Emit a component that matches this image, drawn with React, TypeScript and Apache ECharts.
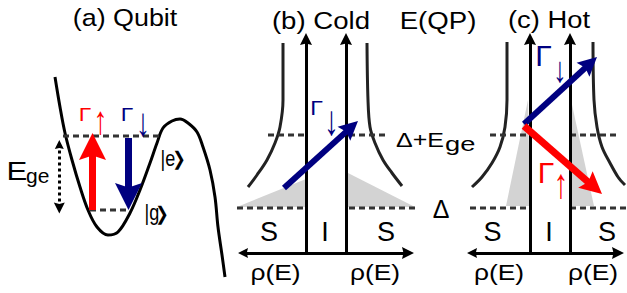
import React, { useEffect, useRef } from "react";
import * as echarts from "echarts";

// ---------------- data (drawing units: 627 x 293 canvas, y grows downward) ----------------
// (a) double-well potential of the qubit
const potentialX = [55, 60, 65, 72, 80, 88, 97, 108, 118, 130, 140, 150, 157, 163, 172, 180, 188, 197, 203, 210, 215, 218, 222, 225];
const potentialY = [77, 107, 133, 160, 187, 210, 227, 235, 232, 213, 190, 163, 143, 128, 121, 119, 123, 132, 147, 170, 197, 227, 255, 277];

// (b)/(c) BCS density-of-states curves (x, y)
const bcsColdLeft = [[283, 43], [283, 100], [280, 127], [275, 143], [267, 160], [257, 175], [248, 187]];
const bcsColdRight = [[367, 43], [368, 100], [370, 127], [375, 143], [383, 160], [392, 173], [402, 186]];
const bcsHotLeft = [[507, 42], [507, 100], [505, 127], [500, 147], [492, 163], [482, 177], [472, 187]];
const bcsHotRight = [[593, 42], [594, 100], [597, 127], [602, 147], [610, 163], [618, 177], [625, 185]];

// quasiparticle occupation (grey wedges)
const occupationCold = [
  [[237, 207], [306, 179], [306, 207]],
  [[346, 172], [415, 207], [346, 207]],
];
const occupationHot = [
  [[506, 206], [528, 100], [530, 206]],
  [[570, 206], [571, 100], [594, 206]],
];

// energy levels: [xStart, xEnd, level]
const qubitLevels = [[63, 160, 136], [90, 130, 210]];
const gapLevels = [[237, 306, 208], [349, 415, 208], [470, 530, 208], [570, 627, 208]];
const excitedLevels = [[268, 306, 135], [349, 389, 135], [490, 530, 135], [570, 617, 135]];

// density-of-states axes
const energyAxes = [[306, 253, 33], [346, 253, 33], [530, 253, 33], [570, 253, 33]]; // x, from, to
const dosAxes = [[237, 414, 253], [466, 624, 253]]; // from, to, y

// transitions: [tail, tip]
const qubitExcite = [[92.5, 210], [92.5, 133]];
const qubitRelax = [[128.5, 138], [128.5, 210]];
const coldRelax = [[284, 188], [358, 121]];
const hotRelax = [[524, 124], [597, 57]];
const hotExcite = [[524, 126], [602, 194]];
const levelSpacing = [[59.3, 139], [59.3, 213.5]];

// texts
const panelTitles = ["(a) Qubit", "(b) Cold", "(c) Hot"];
const energyLabel = "E(QP)";
const rateSymbol = "Γ";
const upArrow = "↑";
const downArrow = "↓";
const stateLabels = ["|e", "|g"];
const ketBracket = "\u276F";
const regionLabels = ["S", "I", "S"];
const dosLabel = "ρ(E)";
const gapLabel = "Δ";
const excitedLabel = "Δ+E";
const egeE = "E";
const egeSub = "ge";

const RED = "#ff0000";
const NAVY = "#000080";
const FONT = '"Liberation Sans", Arial, "DejaVu Sans", sans-serif';

type Pt = number[];
const headPath = "path://M10,0 L20,24 L10,20 L0,24 Z";
const axisHead = "path://M10,0 L20,24 L10,21 L0,24 Z";

function shorten(a: Pt, b: Pt, d: number): Pt {
  const dx = b[0] - a[0];
  const dy = b[1] - a[1];
  const len = Math.hypot(dx, dy);
  return [b[0] - (dx / len) * d, b[1] - (dy / len) * d];
}

function arrowSeries(seg: Pt[], color: string, width: number, head: [number, number], both = false, dash?: number[]) {
  const end = shorten(seg[0], seg[1], head[1] / 2);
  const start = both ? shorten(seg[1], seg[0], head[1] / 2) : seg[0];
  return {
    type: "lines",
    coordinateSystem: "cartesian2d",
    silent: true,
    z: 6,
    symbol: [both ? axisHead : "none", both ? axisHead : headPath],
    symbolSize: head,
    lineStyle: { color, width, opacity: 1, curveness: 0, type: dash || "solid", cap: "butt" },
    data: [{ coords: [start, end] }],
  };
}

function curveSeries(pts: Pt[], color: string, width: number) {
  return {
    type: "line",
    data: pts,
    smooth: 0.35,
    symbol: "none",
    silent: true,
    z: 3,
    lineStyle: { color, width },
  };
}

function levelSeries(seg: number[]) {
  return {
    type: "line",
    data: [[seg[0], seg[2]], [seg[1], seg[2]]],
    symbol: "none",
    silent: true,
    z: 4,
    lineStyle: { color: "#333", width: 3, type: [6, 4] },
  };
}

type Lbl = { t: string; x: number; y: number; s: number; c?: string; sx?: number; a?: string };

export default function App() {
  const ref = useRef<HTMLDivElement>(null);
  useEffect(() => {
    const chart = echarts.init(ref.current!, null, { renderer: "svg" });

    const labels: Lbl[] = [
      { t: panelTitles[0], x: 125, y: 18, s: 24, sx: 1.12 },
      { t: panelTitles[1], x: 321, y: 20.5, s: 24, sx: 1.15 },
      { t: panelTitles[2], x: 549, y: 20, s: 24, sx: 1.14 },
      { t: energyLabel, x: 438, y: 21, s: 24, sx: 1.15 },
      { t: rateSymbol, x: 85, y: 114, s: 19, c: RED, sx: 1.2 },
      { t: upArrow, x: 100.5, y: 120, s: 40, c: RED, sx: 0.7 },
      { t: rateSymbol, x: 127, y: 114, s: 19, c: NAVY, sx: 1.2 },
      { t: downArrow, x: 143, y: 122, s: 40, c: NAVY, sx: 0.7 },
      { t: egeE, x: 6.5, y: 171.3, s: 25, a: "left", sx: 1.25 },
      { t: egeSub, x: 26, y: 175.7, s: 21, a: "left" },
      { t: stateLabels[0], x: 160.5, y: 158, s: 22, a: "left", sx: 0.82 },
      { t: ketBracket, x: 179, y: 159, s: 19, sx: 0.85 },
      { t: stateLabels[1], x: 144.5, y: 212.5, s: 22, a: "left", sx: 0.82 },
      { t: ketBracket, x: 162, y: 213.5, s: 19, sx: 0.85 },
      { t: rateSymbol, x: 316.7, y: 107.5, s: 21, c: NAVY, sx: 1.1 },
      { t: downArrow, x: 331.5, y: 121, s: 42, c: NAVY, sx: 0.7 },
      { t: excitedLabel, x: 396, y: 140, s: 20, a: "left", sx: 1.25 },
      { t: egeSub, x: 445, y: 143.5, s: 21, a: "left", sx: 1.3 },
      { t: gapLabel, x: 441, y: 209, s: 25 },
      { t: regionLabels[0], x: 269, y: 232, s: 27 },
      { t: regionLabels[1], x: 325, y: 232, s: 27 },
      { t: regionLabels[2], x: 386, y: 232, s: 27 },
      { t: regionLabels[0], x: 492.5, y: 232, s: 27 },
      { t: regionLabels[1], x: 549, y: 232, s: 27 },
      { t: regionLabels[2], x: 607, y: 232, s: 27 },
      { t: dosLabel, x: 275.5, y: 272, s: 22, sx: 1.2 },
      { t: dosLabel, x: 375, y: 272, s: 22, sx: 1.2 },
      { t: dosLabel, x: 499, y: 272, s: 22, sx: 1.2 },
      { t: dosLabel, x: 593, y: 272, s: 22, sx: 1.2 },
      { t: rateSymbol, x: 543.5, y: 55, s: 30, c: NAVY },
      { t: downArrow, x: 560, y: 70, s: 36, c: NAVY, sx: 0.75 },
      { t: rateSymbol, x: 546, y: 172.5, s: 30, c: RED },
      { t: upArrow, x: 561, y: 184, s: 42, c: RED, sx: 0.7 },
    ];

    const wedges = [...occupationCold, ...occupationHot];

    const series: any[] = [
      {
        type: "custom",
        silent: true,
        z: 1,
        data: wedges.map((w) => [w[0][0], w[0][1]]),
        encode: { x: 0, y: 1 },
        renderItem: (params: any, api: any) => {
          const w = wedges[params.dataIndex];
          return {
            type: "polygon",
            shape: { points: w.map((p) => api.coord(p)) },
            style: { fill: "#d3d3d3" },
          };
        },
      },
      curveSeries(potentialX.map((x, i) => [x, potentialY[i]]), "#000", 3),
      curveSeries(bcsColdLeft, "#222", 3),
      curveSeries(bcsColdRight, "#222", 3),
      curveSeries(bcsHotLeft, "#222", 3),
      curveSeries(bcsHotRight, "#222", 3),
      ...qubitLevels.map(levelSeries),
      ...gapLevels.map(levelSeries),
      ...excitedLevels.map(levelSeries),
      ...energyAxes.map((a) => ({
        ...arrowSeries([[a[0], a[1]], [a[0], a[2]]], "#000", 3, [10, 12]),
        symbol: ["none", axisHead],
      })),
      ...dosAxes.map((a) => arrowSeries([[a[0], a[2]], [a[1], a[2]]], "#000", 3, [10, 12], true)),
      arrowSeries(levelSpacing, "#000", 3, [9, 11], true, [3, 3]),
      arrowSeries(qubitExcite, RED, 7, [19, 27]),
      arrowSeries(qubitRelax, NAVY, 7, [18, 27]),
      arrowSeries(coldRelax, NAVY, 6, [16, 19]),
      arrowSeries(hotRelax, NAVY, 6, [16, 19]),
      arrowSeries(hotExcite, RED, 7, [18, 22]),
      {
        type: "custom",
        silent: true,
        z: 10,
        data: labels.map((l) => [l.x, l.y]),
        encode: { x: 0, y: 1 },
        renderItem: (params: any, api: any) => {
          const l = labels[params.dataIndex];
          const p = api.coord([l.x, l.y]);
          return {
            type: "text",
            x: p[0],
            y: p[1],
            scaleX: l.sx || 1,
            style: {
              text: l.t,
              fill: l.c || "#000",
              font: `${l.s}px ${FONT}`,
              align: l.a || "center",
              verticalAlign: "middle",
            },
          };
        },
      },
    ];

    chart.setOption({
      animation: false,
      backgroundColor: "#fff",
      grid: { left: 0, right: 0, top: 0, bottom: 0 },
      xAxis: { type: "value", min: 0, max: 627, show: false },
      yAxis: { type: "value", min: 0, max: 293, inverse: true, show: false },
      series,
    });
    return () => chart.dispose();
  }, []);
  return (
    <div
      ref={ref}
      style={{ position: "absolute", left: 0, top: 0, width: 627, height: 293, background: "#fff" }}
    />
  );
}
